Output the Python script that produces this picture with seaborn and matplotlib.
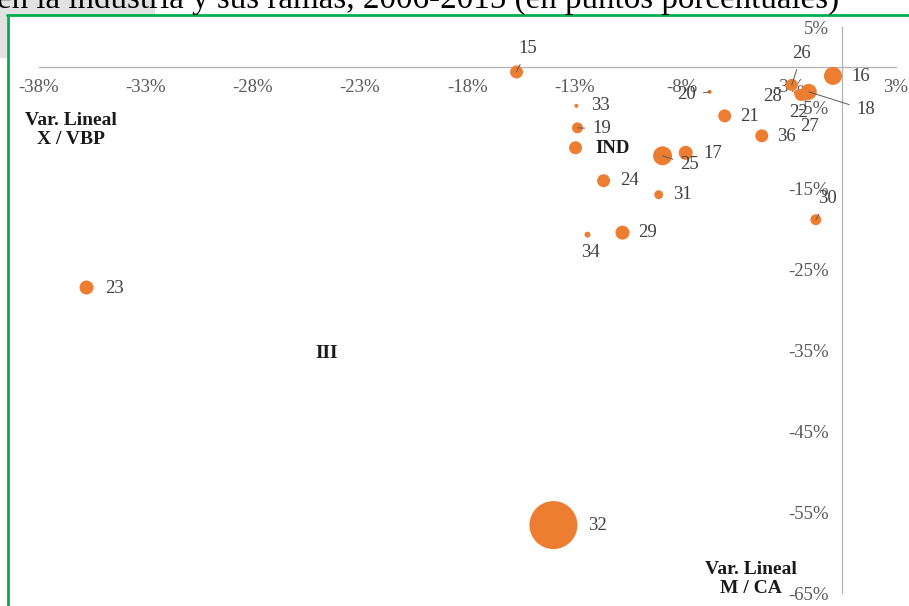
# plot.py
# Bubble chart: linear change of X/VBP vs M/CA for industry branches.

import pandas as pd
import seaborn as sns
import matplotlib.pyplot as plt
from matplotlib.lines import Line2D
from matplotlib.patches import Rectangle

# --- data (percentage points) ---
ramas = ["15", "16", "26", "18", "28", "22", "27", "20", "33", "19", "IND",
         "21", "36", "25", "17", "24", "31", "30", "29", "34", "23", "32"]
var_m_ca = [-15.2, -0.44, -2.36, -1.57, -2.13, -1.94, -1.75, -6.19, -12.41, -12.36, -12.45,
            -5.49, -3.76, -8.39, -7.31, -11.14, -8.57, -1.24, -10.26, -11.89, -35.26, -13.48]
var_x_vbp = [-0.56, -1.05, -2.16, -3.02, -3.15, -3.40, -3.52, -3.02, -4.75, -7.47, -9.94,
             -5.99, -8.46, -10.93, -10.56, -14.01, -15.74, -18.83, -20.43, -20.68, -27.22, -56.60]
peso = [42, 81, 36, 64, 9, 36, 25, 4, 4, 30, 42,
        42, 42, 90, 49, 42, 20, 30, 49, 9, 49, 576]

x_ticks = [-37.5, -32.5, -27.5, -22.5, -17.5, -12.5, -7.5, -2.5, 2.5]
x_tick_labels = ["-38%", "-33%", "-28%", "-23%", "-18%", "-13%", "-8%", "-3%", "3%"]
y_ticks = [-65, -55, -45, -35, -25, -15, -5, 5]
y_tick_labels = ["-65%", "-55%", "-45%", "-35%", "-25%", "-15%", "-5%", "5%"]

df = pd.DataFrame({"rama": ramas, "x": var_m_ca, "y": var_x_vbp, "peso": peso})

# label offsets in pixels (dx, dy) and whether a leader line is drawn
offsets = {
    "15": (11, 23, True), "16": (28, -1, False), "26": (10, 31, True),
    "18": (57, -18, True), "28": (-24, -4, False), "22": (-2, -18, False),
    "27": (5, -31, False), "20": (-23, -3, True), "33": (24, 0, False),
    "19": (24, -1, True), "IND": (37, -1, False), "21": (25, -1, False),
    "36": (25, -1, False), "25": (27, -9, True), "17": (27, -1, False),
    "24": (26, 0, False), "31": (24, 0, False), "30": (12, 21, True),
    "29": (25, 0, False), "34": (3, -18, False), "23": (28, -1, False),
    "32": (44, 0, False),
}

# --- style ---
sns.set_style("white")
plt.rcParams['font.family'] = ['Liberation Serif', 'DejaVu Serif']
grey = "#b3b3b3"
txt = "#404040"
orange = "#ED7D31"

fig = plt.figure(figsize=(9.09, 6.06), dpi=100)
ax = fig.add_axes([38.5 / 909, 13 / 606, 857.5 / 909, 566 / 606])

sns.scatterplot(data=df, x="x", y="y", size="peso", sizes=(0, 1194),
                size_norm=(0, 576), color=orange, linewidth=0, alpha=1,
                legend=False, ax=ax, zorder=3)

ax.set_xlim(-37.5, 2.5)
ax.set_ylim(-65, 5)
ax.set_xticks(x_ticks)
ax.set_xticklabels(x_tick_labels)
ax.set_yticks(y_ticks)
ax.set_yticklabels(y_tick_labels)
ax.set_xlabel("")
ax.set_ylabel("")

for s in ["top", "right"]:
    ax.spines[s].set_visible(False)
ax.spines["left"].set_position(("data", 0))
ax.spines["bottom"].set_position(("data", 0))
for s in ["left", "bottom"]:
    ax.spines[s].set_color(grey)
    ax.spines[s].set_linewidth(0.9)
ax.tick_params(axis="both", direction="out", length=4, width=0.9, color=grey,
               labelcolor="#595959", labelsize=13.5)
ax.tick_params(axis="x", pad=4)
ax.tick_params(axis="y", pad=6)
ax.patch.set_alpha(0)

# data labels
for r, xv, yv in zip(ramas, var_m_ca, var_x_vbp):
    dx, dy, lead = offsets[r]
    ax.annotate(r, xy=(xv, yv), xytext=(dx, dy), textcoords="offset pixels",
                ha="center", va="center", fontsize=13.5, color=txt if r != "IND" else "#1a1a1a",
                fontweight="bold" if r == "IND" else "normal", zorder=4,
                arrowprops=dict(arrowstyle="-", color="#595959", lw=0.7,
                                shrinkA=3, shrinkB=0) if lead else None)

# quadrant / axis annotations
ax.text(-24.04, -35.4, "III", ha="center", va="center", fontsize=14,
        fontweight="bold", color="#1a1a1a")
ax.text(-36.0, -7.7, "Var. Lineal\nX / VBP", ha="center", va="center",
        fontsize=14, fontweight="bold", color="#1a1a1a", linespacing=1.15)
ax.text(-4.28, -63.3, "Var. Lineal\nM / CA", ha="center", va="center",
        fontsize=14, fontweight="bold", color="#1a1a1a", linespacing=1.15)

# page decorations: shadow, clipped title, green frame
fig.add_artist(Rectangle((0, 1 - 15 / 606), 155 / 909, 15 / 606, transform=fig.transFigure,
                         color="#e2e2e2", lw=0, zorder=0))
fig.add_artist(Rectangle((0, 1 - 58 / 606), 7 / 909, 43 / 606, transform=fig.transFigure,
                         color="#e2e2e2", lw=0, zorder=0))
fig.text(-3 / 909, 1 - 8 / 606, "en la industria y sus ramas, 2006-2015 (en puntos porcentuales)",
         ha="left", va="baseline", fontsize=23.8, color="#000000")
fig.add_artist(Line2D([7 / 909, 1], [1 - 15 / 606, 1 - 15 / 606], transform=fig.transFigure,
                      color="#00B050", lw=2))
fig.add_artist(Line2D([8 / 909, 8 / 909], [0, 1 - 15 / 606], transform=fig.transFigure,
                      color="#00B050", lw=2))

plt.savefig("out.png", dpi=100)
